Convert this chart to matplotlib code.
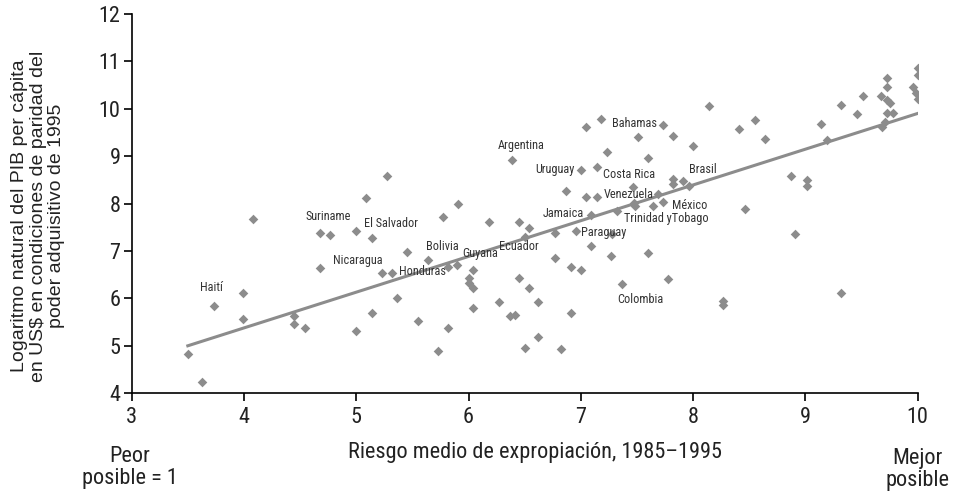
import matplotlib
matplotlib.use("Agg")
import matplotlib.pyplot as plt
import logging

logging.getLogger("matplotlib.font_manager").setLevel(logging.ERROR)

# riesgo medio de expropiacion (x) y log del PIB per capita (y)
riesgo = [3.50, 3.63, 3.73, 3.99, 3.99, 4.08, 4.45, 4.45, 4.54, 4.68,
          4.77, 4.68, 5.00, 5.09, 5.14, 5.14, 5.00, 5.23, 5.27, 5.32,
          5.45, 5.36, 5.55, 5.64, 5.77, 5.91, 5.82, 5.90, 6.04, 6.00,
          6.00, 6.04, 6.04, 5.82, 5.73, 6.18, 6.45, 6.54, 6.50, 6.27,
          6.45, 6.54, 6.37, 6.41, 6.50, 6.39, 6.62, 6.62, 6.77, 6.96,
          7.09, 6.87, 7.05, 7.14, 7.00, 7.14, 7.05, 7.18, 7.23, 7.51,
          7.60, 7.73, 7.82, 8.00, 8.14, 7.46, 7.32, 7.48, 7.47, 7.69,
          7.73, 7.64, 7.82, 7.82, 7.91, 7.96, 7.09, 7.27, 7.60, 6.77,
          6.91, 7.00, 6.91, 6.82, 7.37, 7.78, 8.27, 8.27, 8.41, 8.55,
          8.64, 8.46, 8.87, 9.01, 9.01, 8.91, 9.32, 9.14, 9.19, 9.32,
          9.46, 9.51, 9.68, 9.71, 9.67, 9.73, 9.75, 9.73, 9.73, 9.73,
          9.78, 10.00, 10.00, 9.96, 9.98, 10.00, 7.28]
log_pib = [4.83, 4.24, 5.83, 6.11, 5.56, 7.68, 5.62, 5.46, 5.38, 7.38,
           7.34, 6.64, 7.42, 8.11, 7.28, 5.70, 5.31, 6.53, 8.57, 6.54,
           6.97, 6.00, 5.53, 6.80, 7.71, 7.99, 6.67, 6.71, 6.59, 6.43,
           6.33, 6.22, 5.79, 5.38, 4.89, 7.61, 7.61, 7.48, 7.29, 5.92,
           6.43, 6.22, 5.62, 5.65, 4.95, 8.91, 5.93, 5.19, 7.38, 7.42,
           7.76, 8.27, 8.13, 8.13, 8.70, 8.76, 9.62, 9.78, 9.08, 9.40,
           8.96, 9.66, 9.43, 9.22, 10.06, 8.35, 7.85, 7.95, 8.01, 8.20,
           8.04, 7.94, 8.51, 8.41, 8.48, 8.37, 7.11, 6.90, 6.95, 6.85,
           6.67, 6.59, 5.70, 4.93, 6.30, 6.41, 5.95, 5.86, 9.57, 9.77,
           9.36, 7.89, 8.58, 8.49, 8.36, 7.36, 6.12, 9.68, 9.33, 10.08,
           9.89, 10.27, 9.62, 9.71, 10.26, 10.19, 10.13, 10.46, 10.65, 9.91,
           9.91, 10.86, 10.72, 10.46, 10.33, 10.20, 7.36]

# recta de ajuste
ajuste_x = [3.5, 10.0]
ajuste_y = [5.0, 9.9]

# nombres de paises y donde se escriben
paises = ["Haití", "Suriname", "El Salvador", "Nicaragua", "Honduras",
          "Bolivia", "Guyana", "Ecuador", "Argentina", "Uruguay",
          "Bahamas", "Costa Rica", "Venezuela", "Brasil", "Jamaica",
          "México", "Trinidad yTobago", "Paraguay", "Colombia"]
paises_pos = [(3.61, 6.22), (4.55, 7.73), (5.07, 7.57), (4.79, 6.80),
              (5.38, 6.57), (5.62, 7.09), (5.94, 6.94), (6.27, 7.09),
              (6.26, 9.22), (6.59, 8.71), (7.28, 9.68), (7.20, 8.62),
              (7.20, 8.20), (7.96, 8.71), (6.66, 7.78), (7.81, 7.95),
              (7.38, 7.68), (7.00, 7.38), (7.32, 5.98)]

xticks = [3, 4, 5, 6, 7, 8, 9, 10]
yticks = [4, 5, 6, 7, 8, 9, 10, 11, 12]

gris = "#8c8c8c"
tinta = "#222222"
estrecha = ["Roboto Condensed", "Liberation Sans Narrow", "Roboto", "DejaVu Sans"]

fig = plt.figure(figsize=(9.54, 4.94), dpi=100)
ax = fig.add_axes([0.138, 0.204, 0.824, 0.768])

ax.plot(ajuste_x, ajuste_y, color=gris, lw=2.2, zorder=2)
ax.scatter(riesgo, log_pib, marker="D", s=24, color=gris, linewidths=0, zorder=3)

for nombre, (px, py) in zip(paises, paises_pos):
    ax.text(px, py, nombre, family=estrecha, fontsize=8.8, color="#333333",
            ha="left", va="center", zorder=4)

ax.set_xlim(3, 10)
ax.set_ylim(4, 12)
ax.set_xticks(xticks)
ax.set_yticks(yticks)
for lab in ax.get_xticklabels() + ax.get_yticklabels():
    lab.set_family(estrecha)
    lab.set_fontsize(16)
    lab.set_color(tinta)
ax.tick_params(direction="out", length=6, width=1.2, pad=2)
ax.tick_params(axis="x", pad=4)
ax.spines["top"].set_visible(False)
ax.spines["right"].set_visible(False)
ax.spines["left"].set_linewidth(1.2)
ax.spines["bottom"].set_linewidth(1.2)

fig.text(0.04, 0.563, "Logaritmo natural del PIB per cápita\nen US$ en condiciones de paridad del\npoder adquisitivo de 1995",
         family=["Liberation Sans", "DejaVu Sans"], fontsize=14, rotation=90,
         linespacing=1.12, ha="center", va="center", multialignment="center",
         color=tinta)

fig.text(0.561, 0.083, "Riesgo medio de expropiación, 1985–1995", family=estrecha,
         fontsize=16, ha="center", va="center", color=tinta)
fig.text(0.136, 0.054, "Peor\nposible = 1", family=estrecha, fontsize=16,
         ha="center", va="center", color=tinta, linespacing=1.05)
fig.text(0.962, 0.05, "Mejor\nposible", family=estrecha, fontsize=16,
         ha="center", va="center", color=tinta, linespacing=1.05)

fig.savefig("out.png", dpi=100)
